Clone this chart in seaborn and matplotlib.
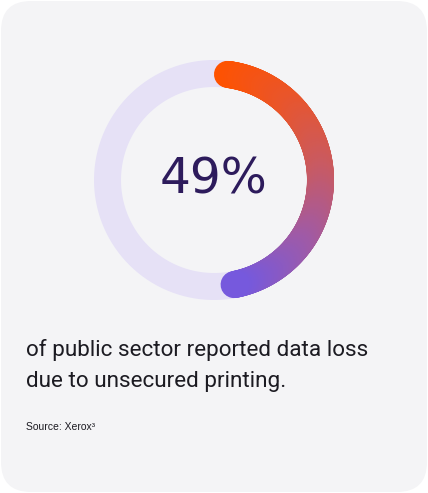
import numpy as np
import pandas as pd
import seaborn as sns
import matplotlib.pyplot as plt
from matplotlib.collections import LineCollection
from matplotlib.colors import LinearSegmentedColormap
from matplotlib.patches import FancyBboxPatch

# data
share_value = 49
share_label = "49%"
caption_lines = ["of public sector reported data loss", "due to unsecured printing."]
source_text = "Source: Xerox\u00b3"

# styling
card_color = "#f4f4f6"
track_color = "#e6e1f6"
number_color = "#2d1b5c"
text_color = "#1c1b22"
arc_colors = ["#ff5200", "#e9552c", "#c95a62", "#a05aa6", "#7659dd"]

sns.set_theme(style="white")
plt.rcParams["font.family"] = ["Roboto", "DejaVu Sans"]

W, H, DPI = 428, 493, 100
fig = plt.figure(figsize=(W / DPI, H / DPI), dpi=DPI)
fig.patch.set_facecolor("white")

# rounded card behind everything
card = FancyBboxPatch((1 / W, 1 / H), (W - 2) / W, (H - 2) / H,
                      boxstyle="round,pad=0,rounding_size=0.07",
                      transform=fig.transFigure, facecolor=card_color,
                      edgecolor="none", mutation_aspect=W / H, zorder=-5)
fig.patches.append(card)

# ring axes in pixel units, centre at (214, 180) from top-left
cx, cy, half = 214, 180, 130
ax = fig.add_axes([(cx - half) / W, (H - cy - half) / H, 2 * half / W, 2 * half / H])
ax.set_zorder(2)
ax.set_xlim(-half, half)
ax.set_ylim(-half, half)
ax.set_aspect("equal")
ax.axis("off")
ax.patch.set_alpha(0)

r_mid = 106.5
ring_px = 27
lw = ring_px * 72 / DPI

# full track
t_full = np.linspace(0, 2 * np.pi, 400)
track = pd.DataFrame({"x": r_mid * np.sin(t_full), "y": r_mid * np.cos(t_full)})
sns.lineplot(data=track, x="x", y="y", sort=False, estimator=None,
             color=track_color, linewidth=lw, ax=ax, zorder=1)

# gradient arc (clockwise from top), caps kept inside the share
cap = (ring_px / 2) / r_mid
t0 = cap
t1 = share_value / 100 * 2 * np.pi - cap
t = np.linspace(t0, t1, 300)
pts = np.column_stack([r_mid * np.sin(t), r_mid * np.cos(t)])
segs = np.stack([pts[:-1], pts[1:]], axis=1)
cmap = LinearSegmentedColormap.from_list("arc", arc_colors)
lc = LineCollection(segs, colors=cmap(np.linspace(0, 1, len(segs))),
                    linewidths=lw, capstyle="round", zorder=2)
ax.add_collection(lc)

ax.text(0, 0, share_label, ha="center", va="center", fontsize=35,
        color=number_color, family="DejaVu Sans", zorder=3)

# caption and source
fig.text(26 / W, 1 - 356 / H, caption_lines[0], ha="left", va="baseline",
         fontsize=16.2, color=text_color)
fig.text(26 / W, 1 - 387 / H, caption_lines[1], ha="left", va="baseline",
         fontsize=16.2, color=text_color)
fig.text(26 / W, 1 - 430 / H, source_text, ha="left", va="baseline",
         fontsize=7.5, color=text_color, family=["Liberation Sans", "DejaVu Sans"])

fig.savefig("out.png", dpi=DPI, facecolor=fig.get_facecolor())
